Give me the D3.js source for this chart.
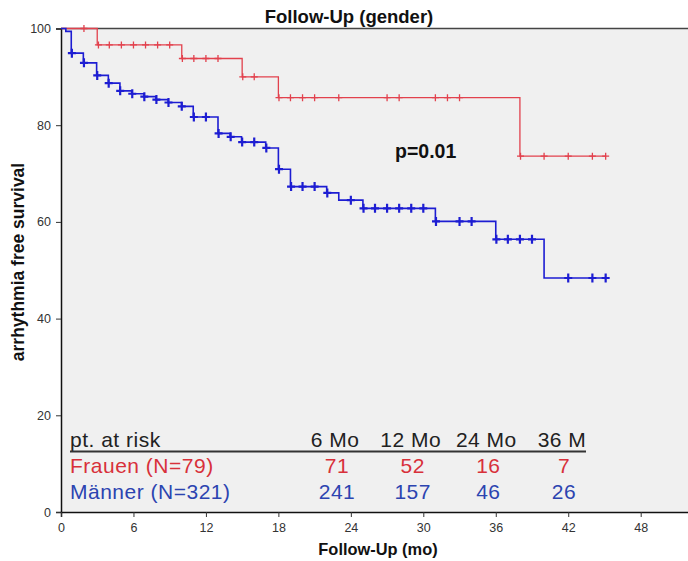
<!DOCTYPE html>
<html>
<head>
<meta charset="utf-8">
<script src="https://cdn.jsdelivr.net/npm/d3@7"></script>
<style>
  body { margin: 0; background: #fff; }
  svg { display: block; }
  .tick text { font-family: "Liberation Sans Narrow", "Arial Narrow", "Liberation Sans", Arial, sans-serif; fill: #333; }
</style>
</head>
<body>
<svg id="chart" width="688" height="561"></svg>
<script>
// Kaplan-Meier steps (months, % free of arrhythmia)
const frauenTimes = [0, 3, 10, 15, 18, 38];
const frauenSurv = [100, 96.6, 93.8, 90.0, 85.7, 73.6];
const frauenCensored = [1.9, 3.1, 4, 5, 6, 7, 8, 9, 10.05, 11, 12, 13, 15.05, 16,
  18.05, 19, 20, 21, 23, 27, 28, 31, 32, 33, 38.05, 40, 42, 44, 45.1];

const maennerTimes = [0, 0.4, 0.85, 1.85, 2.95, 3.92, 4.88, 5.85, 6.87, 7.86, 8.88, 9.99,
  10.95, 13, 14, 14.95, 16.95, 18, 19, 22, 23, 25, 31, 36, 40];
const maennerSurv = [100, 99.4, 94.9, 92.9, 90.3, 88.7, 87.1, 86.5, 85.9, 85.3, 84.7, 83.9,
  81.7, 78.3, 77.6, 76.5, 75.3, 70.9, 67.3, 66.0, 64.5, 62.8, 60.1, 56.4, 48.4];
const maennerCensored = [0.9, 1.9, 3.0, 3.95, 4.9, 5.9, 6.9, 7.9, 8.9, 10.0, 11, 12, 13.05,
  14.05, 15, 16, 17, 18.05, 19.05, 20, 21, 22.05, 24, 25.05, 26, 27, 28, 29, 30, 31.05,
  33, 34, 36.05, 37, 38, 39, 42, 44, 45.1];

const followUpEnd = 45.1;

const xTicks = [0, 6, 12, 18, 24, 30, 36, 42, 48];
const yTicks = [0, 20, 40, 60, 80, 100];

// numbers at risk
const riskHeaders = ["6 Mo", "12 Mo", "24 Mo", "36 M"];
const riskGroups = ["Frauen (N=79)", "Männer (N=321)"];
const riskFrauen = [71, 52, 16, 7];
const riskMaenner = [241, 157, 46, 26];

const redColor = "#e2414d";
const blueColor = "#1d1dd2";

const svg = d3.select("#chart");
const plotL = 61, plotT = 28.5, plotR = 689, plotB = 512;

const x = d3.scaleLinear().domain([0, 52]).range([plotL, plotR]);
const y = d3.scaleLinear().domain([0, 100]).range([plotB, plotT]);

// plot background
svg.append("rect")
  .attr("x", plotL).attr("y", plotT)
  .attr("width", plotR - plotL).attr("height", plotB - plotT)
  .attr("fill", "#f0f0f0");

// top border
svg.append("line")
  .attr("x1", plotL).attr("x2", plotR)
  .attr("y1", plotT).attr("y2", plotT)
  .attr("stroke", "#444").attr("stroke-width", 1.5);

// axes
const yAxis = svg.append("g")
  .attr("transform", `translate(${plotL},0)`)
  .call(d3.axisLeft(y).tickValues(yTicks).tickSize(5).tickPadding(5));
yAxis.selectAll("text").attr("font-size", 12.5);

const xAxis = svg.append("g")
  .attr("transform", `translate(0,${plotB})`)
  .call(d3.axisBottom(x).tickValues(xTicks).tickSize(5).tickPadding(6));
xAxis.selectAll("text").attr("font-size", 12.5);

[yAxis, xAxis].forEach(function(g) {
  g.select(".domain").attr("stroke", "#111").attr("stroke-width", 1.5);
  g.selectAll(".tick line").attr("stroke", "#333");
});

function survivalAt(times, surv, t) {
  let v = surv[0];
  for (let i = 0; i < times.length; i++) {
    if (times[i] <= t) v = surv[i];
  }
  return v;
}

function drawCurve(times, surv, censored, color, lw, mark) {
  const pts = times.map((t, i) => [t, surv[i]]);
  pts.push([followUpEnd, surv[surv.length - 1]]);

  const line = d3.line()
    .x(d => x(d[0]))
    .y(d => y(d[1]))
    .curve(d3.curveStepAfter);

  svg.append("path")
    .datum(pts)
    .attr("d", line)
    .attr("fill", "none")
    .attr("stroke", color)
    .attr("stroke-width", lw);

  const g = svg.append("g")
    .attr("stroke", color)
    .attr("stroke-width", mark.w);

  g.selectAll("path.cens")
    .data(censored)
    .enter().append("path")
    .attr("class", "cens")
    .attr("d", function(t) {
      const cx = x(t), cy = y(survivalAt(times, surv, t));
      return "M" + (cx - mark.h) + "," + cy + "H" + (cx + mark.h) +
        "M" + cx + "," + (cy - mark.v) + "V" + (cy + mark.v);
    });
}

drawCurve(frauenTimes, frauenSurv, frauenCensored, redColor, 1.3, {h: 3.5, v: 3.5, w: 1.3});
drawCurve(maennerTimes, maennerSurv, maennerCensored, blueColor, 1.6, {h: 4, v: 4.5, w: 2.2});

// titles
svg.append("text")
  .attr("x", 349).attr("y", 23)
  .attr("text-anchor", "middle")
  .attr("font-family", "Liberation Sans, Arial, sans-serif")
  .attr("font-weight", "bold")
  .attr("font-size", 18.5)
  .attr("fill", "#111")
  .text("Follow-Up (gender)");

svg.append("text")
  .attr("x", 378).attr("y", 555)
  .attr("text-anchor", "middle")
  .attr("font-family", "Liberation Sans Narrow, Liberation Sans, Arial, sans-serif")
  .attr("font-weight", "bold")
  .attr("font-size", 16.4)
  .attr("fill", "#111")
  .text("Follow-Up (mo)");

svg.append("text")
  .attr("transform", "translate(24,262) rotate(-90)")
  .attr("text-anchor", "middle")
  .attr("font-family", "Liberation Sans, Arial, sans-serif")
  .attr("font-weight", "bold")
  .attr("font-size", 17.5)
  .attr("fill", "#111")
  .text("arrhythmia free survival");

svg.append("text")
  .attr("x", 395).attr("y", 158)
  .attr("font-family", "Liberation Sans, Arial, sans-serif")
  .attr("font-weight", "bold")
  .attr("font-size", 19.5)
  .attr("fill", "#111")
  .text("p=0.01");

// at-risk table
const col = d3.scalePoint().domain(riskHeaders).range([335, 562]);
const tableFont = "Liberation Sans, Arial, sans-serif";
const rowY = [447, 473, 499];

function tableText(sel) {
  sel.attr("font-family", tableFont)
    .attr("font-size", 21)
    .attr("letter-spacing", 0.5);
}

svg.append("text")
  .attr("x", 70).attr("y", rowY[0])
  .call(tableText)
  .attr("fill", "#222")
  .text("pt. at risk");

svg.append("line")
  .attr("x1", 70).attr("x2", 586)
  .attr("y1", 451.5).attr("y2", 451.5)
  .attr("stroke", "#333").attr("stroke-width", 2);

svg.selectAll("text.hdr")
  .data(riskHeaders)
  .enter().append("text")
  .attr("class", "hdr")
  .attr("x", d => col(d)).attr("y", rowY[0])
  .attr("text-anchor", "middle")
  .call(tableText)
  .attr("fill", "#222")
  .text(d => d);

const rows = [
  {label: riskGroups[0], vals: riskFrauen, color: "#d8303a"},
  {label: riskGroups[1], vals: riskMaenner, color: "#2c44b0"}
];

rows.forEach(function(r, i) {
  svg.append("text")
    .attr("x", 70).attr("y", rowY[i + 1])
    .call(tableText)
    .attr("fill", r.color)
    .text(r.label);
  svg.selectAll("text.v" + i)
    .data(r.vals)
    .enter().append("text")
    .attr("class", "v" + i)
    .attr("x", (d, j) => col(riskHeaders[j]) + 2)
    .attr("y", rowY[i + 1])
    .attr("text-anchor", "middle")
    .call(tableText)
    .attr("fill", r.color)
    .text(d => d);
});
</script>
</body>
</html>
